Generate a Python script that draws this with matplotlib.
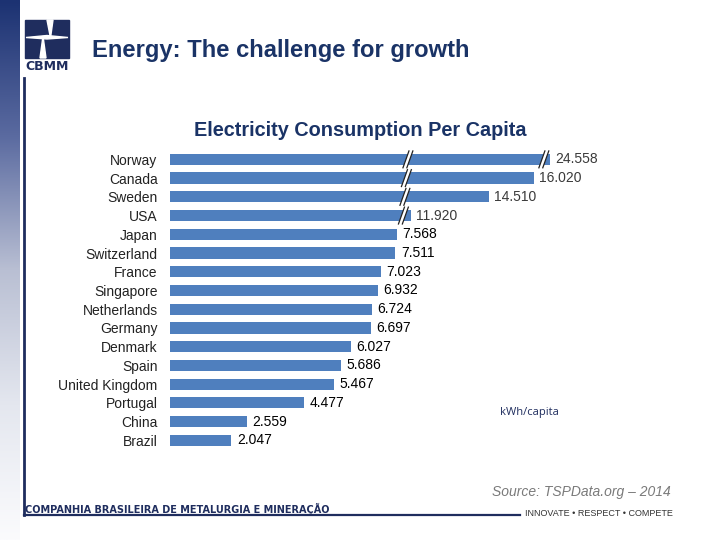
import numpy as np
import matplotlib
matplotlib.use("Agg")
import matplotlib.pyplot as plt
from matplotlib.colors import LinearSegmentedColormap
from matplotlib.patches import Rectangle, Polygon

countries = ["Norway", "Canada", "Sweden", "USA", "Japan", "Switzerland",
             "France", "Singapore", "Netherlands", "Germany", "Denmark",
             "Spain", "United Kingdom", "Portugal", "China", "Brazil"]
kwh_per_capita = [24558, 16020, 14510, 11920, 7568, 7511, 7023, 6932,
                  6724, 6697, 6027, 5686, 5467, 4477, 2559, 2047]

# stretches of the value axis cut out of the long bars (kWh)
axis_breaks = [(7900, 11790), (16320, 24320)]

NAVY = "#1f2d5e"
TITLE = "#1a3366"
BAR = "#4f7fbe"
W, H = 720, 540


def fig_xy(x, y):
    # pixel position (from top-left) -> figure fraction
    return x / W, 1 - y / H


# piecewise scale that squeezes each break down to almost nothing
real, shown = [0.0], [0.0]
for lo, hi in axis_breaks:
    shown.append(shown[-1] + lo - real[-1])
    real.append(lo)
    shown.append(shown[-1] + 1)
    real.append(hi)
shown.append(shown[-1] + 60000 - real[-1])
real.append(60000)


def forward(v):
    return np.interp(v, real, shown)


def inverse(d):
    return np.interp(d, shown, real)


fig = plt.figure(figsize=(7.2, 5.4), dpi=100)
plt.rcParams["font.family"] = ["Liberation Sans", "DejaVu Sans"]

# left gradient strip
strip = fig.add_axes([0, 0, 20 / W, 1])
grad = np.linspace(0, 1, 256).reshape(-1, 1)
cmap = LinearSegmentedColormap.from_list(
    "strip", ["#1c3272", "#5a6aa0", "#b9bfd3", "#e4e7ef", "#fbfbfd"])
strip.imshow(grad, aspect="auto", cmap=cmap, extent=(0, 1, 0, 1), origin="upper")
strip.axis("off")

# frame lines
fig.add_artist(plt.Line2D([24 / W, 24 / W], [1 - 78 / H, 1 - 515 / H],
                          color=NAVY, lw=2))
fig.add_artist(plt.Line2D([24 / W, 520 / W], [1 - 515 / H, 1 - 515 / H],
                          color=NAVY, lw=1.6))

# logo
logo = fig.add_axes([22 / W, 1 - 78 / H, 50 / W, 63 / H])
logo.set_xlim(22, 72)
logo.set_ylim(78, 15)
logo.axis("off")
logo.add_patch(Rectangle((25, 20), 44, 38, color=NAVY))
logo.add_patch(Polygon([(47, 20), (53, 20), (50.5, 38)], color="white"))
logo.add_patch(Polygon([(40, 58), (46, 58), (43, 36)], color="white"))
logo.add_patch(Polygon([(26, 37.5), (47, 35.5), (68, 37.5), (47, 39)],
                       color="white"))
logo.text(47, 67, "CBMM", ha="center", va="center", fontsize=9,
          fontweight="bold", color=NAVY, family="DejaVu Sans")

fig.text(*fig_xy(92, 51), "Energy: The challenge for growth", fontsize=17.1,
         fontweight="bold", color=TITLE, va="center", ha="left")

# chart
ax = fig.add_axes([170 / W, 1 - 449.7 / H, 450 / W, 299.7 / H])
ax.set_xscale("function", functions=(forward, inverse))
y = np.arange(len(countries))
bars = ax.barh(y, kwh_per_capita, height=0.6, color=BAR, zorder=2)
ax.set_xlim(0, inverse(15000))
ax.set_ylim(len(countries) - 0.5, -0.5)
ax.set_yticks(y, countries)
ax.set_xticks([])
ax.minorticks_off()
ax.tick_params(axis="y", length=0, pad=9, labelsize=10, labelcolor="#222222")
for s in ax.spines.values():
    s.set_visible(False)

labels = [f"{v:,}".replace(",", ".") for v in kwh_per_capita]
texts = ax.bar_label(bars, labels=labels, padding=4, fontsize=10)
for i, t in enumerate(texts):
    t.set_color("#3a3a3a" if kwh_per_capita[i] > axis_breaks[0][1] else "black")

# break marks: pair of slashes with a white gap on each cut bar
for lo, hi in axis_breaks:
    for i, v in enumerate(kwh_per_capita):
        if v <= hi:
            continue
        c = forward(lo) + 30 - 50 * i
        top, bot = i - 0.45, i + 0.45
        gap = np.array([(c - 65 + 100, top), (c + 65 + 100, top),
                        (c + 65 - 100, bot), (c - 65 - 100, bot)])
        ax.add_patch(Polygon(np.column_stack([inverse(gap[:, 0]), gap[:, 1]]),
                             color="white", zorder=3, lw=0))
        for dx in (-65, 65):
            ax.plot(inverse([c + dx + 100, c + dx - 100]), [top, bot],
                    color="#222222", lw=0.9, zorder=4)

fig.text(*fig_xy(360, 130), "Electricity Consumption Per Capita", fontsize=14.3,
         fontweight="bold", color=TITLE, ha="center", va="center")
fig.text(*fig_xy(500, 413), "kWh/capita", fontsize=8, color=NAVY,
         ha="left", va="center", family="Open Sans")

# footer
fig.text(*fig_xy(671, 492), "Source: TSPData.org \u2013 2014", fontsize=10,
         color="#7a7a7a", style="italic", ha="right", va="center")
fig.text(*fig_xy(25, 509), "COMPANHIA BRASILEIRA DE METALURGIA E MINERA\u00c7\u00c3O",
         fontsize=7, color=NAVY, fontweight="bold", ha="left", va="center",
         family="DejaVu Sans")
fig.text(*fig_xy(673, 513), "INNOVATE \u2022 RESPECT \u2022 COMPETE", fontsize=6.5,
         color="#333333", ha="right", va="center")

fig.savefig("out.png", dpi=100)
